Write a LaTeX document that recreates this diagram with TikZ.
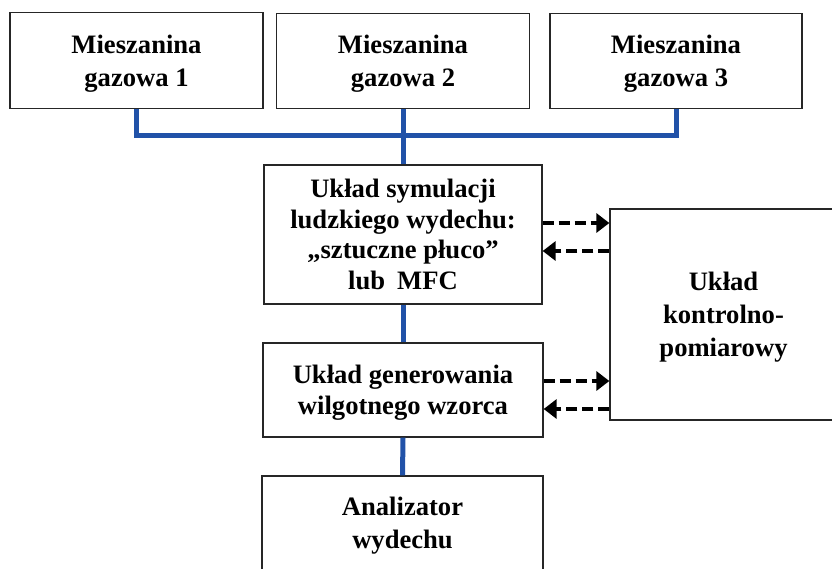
\documentclass[tikz,border=0pt]{standalone}
\usepackage{fontspec}
\setmainfont{Liberation Serif}
\usetikzlibrary{arrows.meta}
\definecolor{pipeblue}{RGB}{33,82,168}

\begin{document}
\begin{tikzpicture}[
  x=1pt, y=-1pt,
  ubox/.style={draw=black!85, line width=1.3pt, fill=white, align=center, inner sep=0pt, text depth=0pt, font=\bfseries\fontsize{26.6}{33}\selectfont},
  pipe/.style={draw=pipeblue, line width=5pt},
  link/.style={draw=black, line width=3.4pt, dash pattern=on 11pt off 5pt, -{Triangle[length=13pt,width=19pt]}}
]
  \clip (0,0) rectangle (832,568);

  % gas mixtures
  \node[ubox, minimum width=253pt, minimum height=96pt] (mix1) at (136.5,60.5) {Mieszanina\\gazowa 1};
  \node[ubox, minimum width=253pt, minimum height=95pt] (mix2) at (403,61) {Mieszanina\\gazowa 2};
  \node[ubox, minimum width=252pt, minimum height=95pt] (mix3) at (676,61) {Mieszanina\\gazowa 3};

  % main chain
  \node[ubox, minimum width=278pt, minimum height=139pt, font=\bfseries\fontsize{26.6}{30.5}\selectfont] (lung) at (403,234.5)
    {Układ symulacji\\ludzkiego wydechu:\\„sztuczne płuco”\\lub\hspace{12pt}MFC};
  \node[ubox, minimum width=280pt, minimum height=94pt, font=\bfseries\fontsize{26.6}{31}\selectfont] (humid) at (403,390) {Układ generowania\\wilgotnego wzorca};
  \node[ubox, minimum width=281pt, minimum height=94pt] (analyzer) at (402.5,523) {Analizator\\wydechu};

  % control unit
  \node[ubox, minimum width=227pt, minimum height=211pt] (ctrl) at (723.5,314.5) {Układ\\kontrolno-\\pomiarowy};

  % gas lines
  \draw[pipe] (mix1.south) -- ++(0,26.5) -| (mix3.south);
  \draw[pipe] (mix2.south) -- (lung.north);
  \draw[pipe] (lung.south) -- (humid.north);
  \draw[pipe] (humid.south) -- (analyzer.north);

  % signals
  \draw[link] ([yshift=11.5pt]lung.east) -- ([yshift=11.5pt]lung.east -| ctrl.west);
  \draw[link] ([yshift=-16.5pt]lung.east -| ctrl.west) -- ([yshift=-16.5pt]lung.east);
  \draw[link] ([yshift=9pt]humid.east) -- ([yshift=9pt]humid.east -| ctrl.west);
  \draw[link] ([yshift=-19pt]humid.east -| ctrl.west) -- ([yshift=-19pt]humid.east);
\end{tikzpicture}
\end{document}
